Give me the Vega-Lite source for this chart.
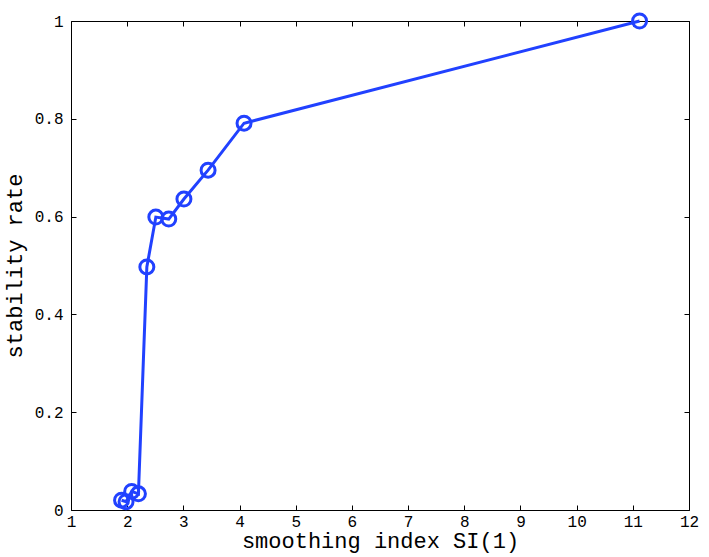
{
  "$schema": "https://vega.github.io/schema/vega-lite/v6.json",
  "autosize": "none",
  "padding": {"left": 71, "top": 21, "right": 20, "bottom": 47},
  "width": 618,
  "height": 489,
  "background": "white",
  "config": {
    "view": {"stroke": null},
    "font": "Liberation Mono",
    "axis": {
      "grid": false,
      "domainColor": "black",
      "domainWidth": 1,
      "tickColor": "black",
      "tickSize": -5,
      "labelFont": "Liberation Mono",
      "labelFontSize": 16,
      "labelColor": "black",
      "titleFont": "Liberation Mono",
      "titleFontSize": 22,
      "titleFontWeight": "normal",
      "titleColor": "black"
    }
  },
  "data": {
    "values": [
      {"si": 1.90, "rate": 0.020},
      {"si": 1.98, "rate": 0.017},
      {"si": 2.08, "rate": 0.038},
      {"si": 2.20, "rate": 0.033},
      {"si": 2.35, "rate": 0.497},
      {"si": 2.51, "rate": 0.599},
      {"si": 2.74, "rate": 0.595},
      {"si": 3.01, "rate": 0.636},
      {"si": 3.44, "rate": 0.695},
      {"si": 4.08, "rate": 0.791},
      {"si": 11.12, "rate": 1.0}
    ]
  },
  "layer": [
    {
      "mark": {"type": "line", "color": "#2141ff", "strokeWidth": 3, "clip": false},
      "encoding": {
        "x": {
          "field": "si", "type": "quantitative",
          "scale": {"domain": [1, 12], "nice": false, "zero": false},
          "axis": {"title": "smoothing index SI(1)", "values": [1,2,3,4,5,6,7,8,9,10,11,12], "labelPadding": 8, "titlePadding": 1, "labelFlush": false}
        },
        "y": {
          "field": "rate", "type": "quantitative",
          "scale": {"domain": [0, 1], "nice": false},
          "axis": {"title": "stability rate", "values": [0, 0.2, 0.4, 0.6, 0.8, 1], "format": ".1~f", "labelPadding": 13, "titlePadding": 8, "labelFlush": false}
        }
      }
    },
    {
      "mark": {"type": "point", "filled": false, "color": "#2141ff", "size": 196, "strokeWidth": 3, "opacity": 1, "clip": false},
      "encoding": {
        "x": {"field": "si", "type": "quantitative", "axis": {"orient": "top", "labels": false, "title": null, "values": [1,2,3,4,5,6,7,8,9,10,11,12]}},
        "y": {"field": "rate", "type": "quantitative", "axis": {"orient": "right", "labels": false, "title": null, "values": [0, 0.2, 0.4, 0.6, 0.8, 1]}}
      }
    }
  ],
  "resolve": {"axis": {"x": "independent", "y": "independent"}}
}
